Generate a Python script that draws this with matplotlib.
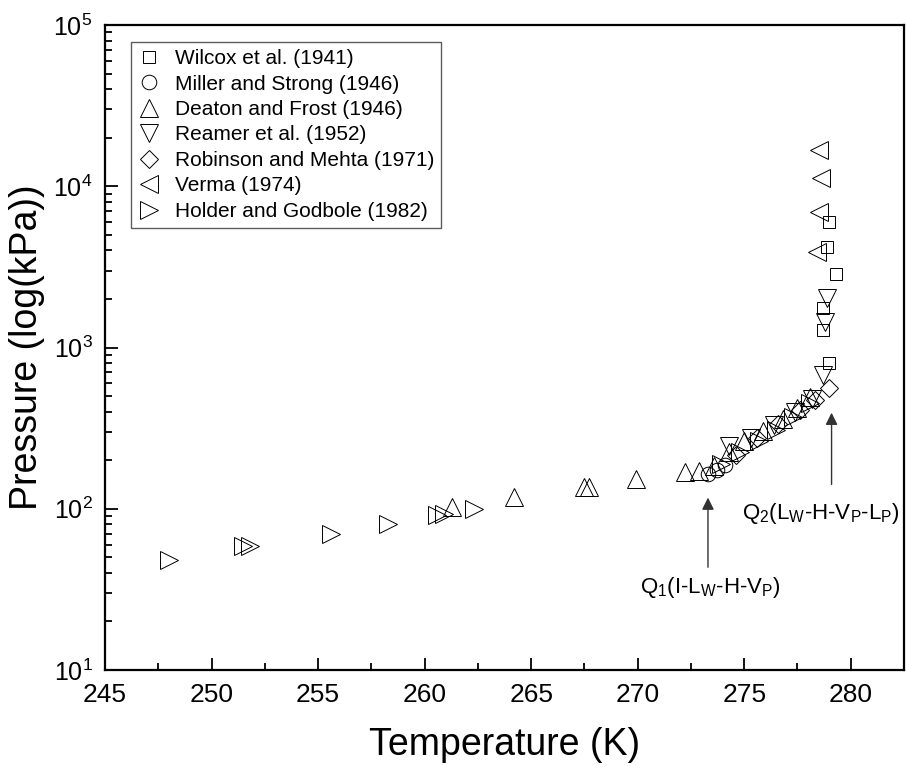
import numpy as np
import matplotlib
matplotlib.use('Agg')
import matplotlib.pyplot as plt
from matplotlib.ticker import LogLocator, MultipleLocator, NullFormatter

plt.rcParams['font.family'] = ['Liberation Sans', 'DejaVu Sans']
plt.rcParams['mathtext.fontset'] = 'custom'
plt.rcParams['mathtext.rm'] = 'Liberation Sans'
plt.rcParams['mathtext.it'] = 'Liberation Sans'
plt.rcParams['mathtext.default'] = 'regular'

# data (T in K, P in kPa)
wilcox_T = [279.0, 278.9, 279.3, 278.7, 278.7, 279.0]
wilcox_P = [6000, 4200, 2860, 1760, 1285, 800]

miller_T = [273.3, 273.7, 274.1]
miller_P = [165, 175, 186]

deaton_T = [261.3, 264.2, 267.5, 267.7, 269.9, 272.2, 272.9,
            273.6, 274.3, 275.0, 275.9, 276.8, 277.5, 278.1]
deaton_P = [102, 118, 136, 137, 153, 169, 171,
            185, 225, 262, 305, 360, 420, 490]

reamer_T = [274.3, 275.3, 276.4, 277.4, 278.2, 278.7, 278.8, 278.9]
reamer_P = [245, 275, 330, 400, 480, 675, 1440, 2030]

robinson_T = [274.6, 275.6, 276.6, 277.6, 278.3, 279.0]
robinson_P = [215, 275, 335, 410, 470, 561]

verma_T = [278.5, 278.6, 278.5, 278.4]
verma_P = [16800, 11250, 6900, 3900]

holder_T = [248.0, 251.5, 251.8, 255.6, 258.3, 260.6, 260.9, 262.3,
            273.9, 274.8, 275.7, 276.5, 277.3, 278.1]
holder_P = [48, 58.5, 58.8, 69.7, 80, 91.5, 92.5, 100,
            190, 225, 265, 310, 370, 450]

series = [
    (wilcox_T, wilcox_P, 's', 9, 'Wilcox et al. (1941)'),
    (miller_T, miller_P, 'o', 10.5, 'Miller and Strong (1946)'),
    (deaton_T, deaton_P, '^', 13, 'Deaton and Frost (1946)'),
    (reamer_T, reamer_P, 'v', 13, 'Reamer et al. (1952)'),
    (robinson_T, robinson_P, 'D', 9, 'Robinson and Mehta (1971)'),
    (verma_T, verma_P, '<', 13, 'Verma (1974)'),
    (holder_T, holder_P, '>', 13, 'Holder and Godbole (1982)'),
]

fig = plt.figure(figsize=(9.06, 7.66), dpi=100)
ax = fig.add_axes([105 / 906, 96 / 766, 799 / 906, 645 / 766])

for T, P, m, ms, lab in series:
    ax.plot(T, P, linestyle='none', marker=m, markersize=ms,
            markerfacecolor='none', markeredgecolor='black',
            markeredgewidth=0.7, label=lab)

ax.set_yscale('log')
ax.set_xlim(245, 282.5)
ax.set_ylim(10, 1e5)

ax.xaxis.set_major_locator(MultipleLocator(5))
ax.xaxis.set_minor_locator(MultipleLocator(2.5))
ax.yaxis.set_major_locator(LogLocator(base=10, numticks=10))
ax.yaxis.set_minor_locator(LogLocator(base=10, subs=np.arange(2, 10), numticks=20))
ax.yaxis.set_minor_formatter(NullFormatter())

ax.tick_params(which='both', direction='in', width=1.3, top=False, right=False)
ax.tick_params(which='major', length=9)
ax.tick_params(which='minor', length=5)
ax.tick_params(axis='x', labelsize=19, pad=9)
ax.tick_params(axis='y', labelsize=18, pad=9)
for sp in ax.spines.values():
    sp.set_linewidth(1.6)

ax.set_xlabel('Temperature (K)', fontsize=27, labelpad=15)
ax.set_ylabel('Pressure (log(kPa))', fontsize=27, labelpad=6)

leg = ax.legend(loc='upper left', bbox_to_anchor=(0.0325, 0.974), borderaxespad=0,
                fontsize=15, frameon=True, fancybox=False, labelspacing=0.31,
                handlelength=1.0, handletextpad=0.75, borderpad=0.35)
leg.get_frame().set_edgecolor('#333333')
leg.get_frame().set_linewidth(1.0)

# quadruple point markers
ax.annotate('', xy=(273.3, 122), xytext=(273.3, 41.7),
            arrowprops=dict(arrowstyle='-|>', color='#333333', lw=1.0,
                            mutation_scale=18))
ax.text(273.4, 32.3, r'Q$_1$(I-L$_{W}$-H-V$_{P}$)', fontsize=16,
        ha='center', va='center')
ax.annotate('', xy=(279.1, 410), xytext=(279.1, 136),
            arrowprops=dict(arrowstyle='-|>', color='#333333', lw=1.0,
                            mutation_scale=18))
ax.text(278.6, 94, r'Q$_2$(L$_{W}$-H-V$_{P}$-L$_{P}$)', fontsize=16,
        ha='center', va='center')

fig.savefig('out.png', dpi=100)
